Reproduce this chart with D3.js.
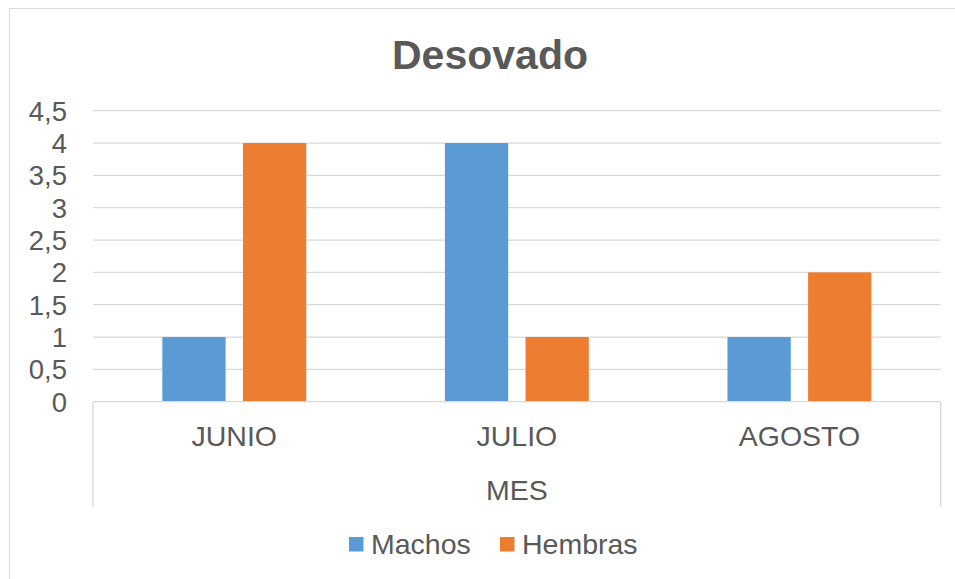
<!DOCTYPE html>
<html>
<head>
<meta charset="utf-8">
<script src="https://cdn.jsdelivr.net/npm/d3@7"></script>
<style>
  body { margin: 0; background: #fff; }
  text { font-family: Arial, "Liberation Sans", sans-serif; fill: #595959; }
</style>
</head>
<body>
<div id="chart"></div>
<script>
const meses = ["JUNIO", "JULIO", "AGOSTO"]
const series = ["Machos", "Hembras"]
const machos = [1, 4, 1]
const hembras = [4, 1, 2]
const yTicks = [0, 0.5, 1, 1.5, 2, 2.5, 3, 3.5, 4, 4.5]
const colores = ["#5b9bd5", "#ed7d31"]

const width = 955, height = 579
const margin = { left: 93, right: 14.3, top: 110.7, bottom: 177.3 }
const plotW = width - margin.left - margin.right
const plotH = height - margin.top - margin.bottom

let svg = d3.select("#chart")
    .append("svg")
    .attr("width", width)
    .attr("height", height)

// chart border
svg.append("rect")
    .attr("x", 9.5).attr("y", 8.5)
    .attr("width", width + 10).attr("height", height + 10)
    .attr("fill", "none")
    .attr("stroke", "#d9d9d9")

svg.append("text")
    .attr("x", 490).attr("y", 69)
    .attr("text-anchor", "middle")
    .style("font-size", "41px")
    .style("font-weight", "bold")
    .text("Desovado")

let g = svg.append("g")
    .attr("transform", `translate(${margin.left}, ${margin.top})`)

let y = d3.scaleLinear().domain([0, 4.5]).range([plotH, 0])
let x0 = d3.scaleBand().domain(meses).range([0, plotW]).padding(0)
let x1 = d3.scaleBand().domain(series).range([0, x0.bandwidth()])
    .paddingInner(0.215).paddingOuter(0.86)

// gridlines
g.selectAll(".grid").data(yTicks.slice(1))
    .enter().append("line")
    .attr("x1", 0).attr("x2", plotW)
    .attr("y1", d => y(d)).attr("y2", d => y(d))
    .attr("stroke", "#d9d9d9")
    .attr("stroke-width", 1.3)

// y tick labels
const fmt = d => String(d).replace(".", ",")
g.selectAll(".ylab").data(yTicks)
    .enter().append("text")
    .attr("x", -26).attr("y", d => y(d))
    .attr("dy", "0.36em")
    .attr("text-anchor", "end")
    .style("font-size", "27.5px")
    .text(fmt)

// bars
let data = meses.map((m, i) => ({ mes: m, vals: [machos[i], hembras[i]] }))
let grupos = g.selectAll(".grupo").data(data)
    .enter().append("g")
    .attr("transform", d => `translate(${x0(d.mes)}, 0)`)
grupos.selectAll("rect")
    .data(d => d.vals.map((v, j) => ({ key: series[j], value: v, c: colores[j] })))
    .enter().append("rect")
    .attr("x", d => x1(d.key))
    .attr("width", x1.bandwidth())
    .attr("y", d => y(d.value))
    .attr("height", d => plotH - y(d.value))
    .attr("fill", d => d.c)

// category axis: baseline plus the two outer dividers
g.append("line")
    .attr("x1", 0).attr("x2", plotW)
    .attr("y1", plotH).attr("y2", plotH)
    .attr("stroke", "#d9d9d9").attr("stroke-width", 1.3)
g.selectAll(".div").data([0, plotW])
    .enter().append("line")
    .attr("x1", d => d).attr("x2", d => d)
    .attr("y1", plotH).attr("y2", plotH + 105)
    .attr("stroke", "#d9d9d9").attr("stroke-width", 1.3)

g.selectAll(".xlab").data(meses)
    .enter().append("text")
    .attr("x", d => x0(d) + x0.bandwidth() / 2)
    .attr("y", plotH + 44)
    .attr("text-anchor", "middle")
    .style("font-size", "28.5px")
    .text(d => d)

g.append("text")
    .attr("x", plotW / 2).attr("y", plotH + 98)
    .attr("text-anchor", "middle")
    .style("font-size", "28.5px")
    .text("MES")

// legend
let legX = [349, 500]
let leg = svg.selectAll(".leg").data(series)
    .enter().append("g")
    .attr("transform", (d, i) => `translate(${legX[i]}, 537)`)
leg.append("rect")
    .attr("width", 14.5).attr("height", 14.5)
    .attr("fill", (d, i) => colores[i])
leg.append("text")
    .attr("x", 22).attr("y", 17)
    .style("font-size", "28.5px")
    .text(d => d)
</script>
</body>
</html>
